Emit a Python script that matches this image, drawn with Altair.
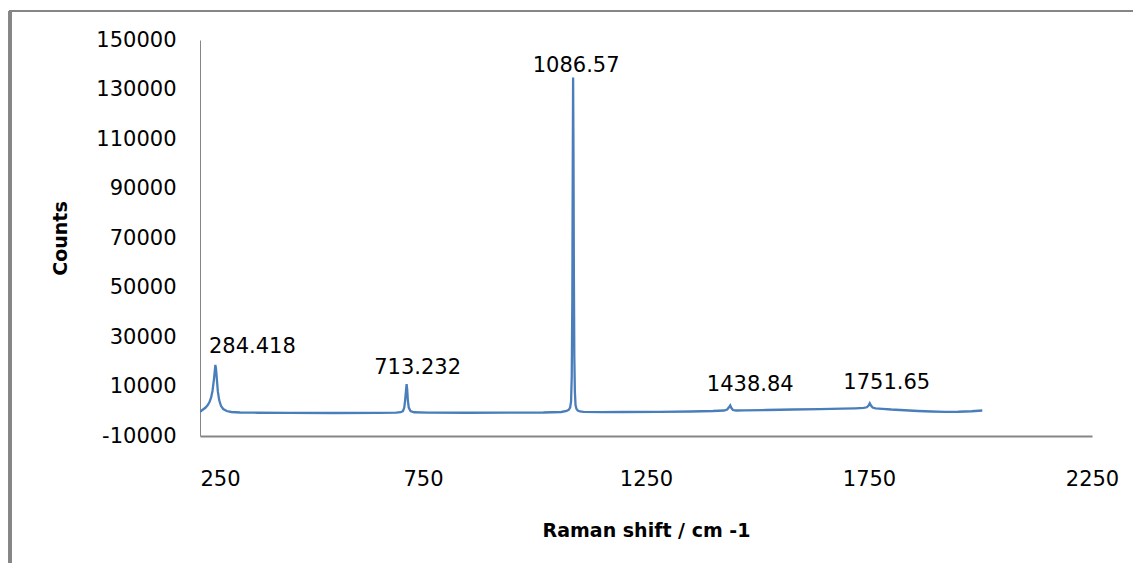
import altair as alt
import pandas as pd

# Raman spectrum
shift = [250, 256, 262, 267, 271, 275, 278, 281, 283, 284.418, 286, 288, 290, 293, 297, 302, 310, 320,
         340, 380, 450, 550, 650, 690, 700, 705, 708, 710, 712, 713.232, 714.5, 716, 718, 722, 730, 760,
         850, 950, 1020, 1060, 1072, 1077, 1080, 1082, 1083.5, 1084.8, 1085.8, 1086.57, 1087.4, 1088.3,
         1089.3, 1090.5, 1092, 1094, 1097, 1102, 1110, 1150, 1200, 1280, 1350, 1400, 1425, 1432, 1435.5,
         1438.84, 1441.5, 1445, 1452, 1470, 1520, 1580, 1640, 1690, 1720, 1738, 1745, 1749, 1751.65, 1754,
         1758, 1765, 1780, 1800, 1830, 1860, 1890, 1920, 1950, 1980, 2004]
counts = [-200, 600, 1400, 2400, 3600, 5600, 8200, 12500, 16000, 18700, 17000, 12500, 8000, 4500, 2200,
          900, 100, -300, -500, -600, -650, -700, -650, -550, -400, 0, 1500, 4500, 8500, 11000, 9000, 4500,
          1500, 100, -400, -550, -600, -550, -500, -300, 100, 600, 1600, 4000, 14000, 45000, 100000, 134800,
          105000, 55000, 22000, 8000, 2500, 1000, 300, -100, -250, -350, -300, -250, -100, 100, 300, 700,
          1500, 2400, 1300, 500, 300, 350, 500, 700, 850, 1050, 1200, 1350, 1600, 2300, 3200, 2400, 1500,
          1200, 1000, 700, 400, 100, -100, -250, -200, 0, 300]

peak_shift = [284.418, 713.232, 1086.57, 1438.84, 1751.65]
peak_counts = [18700, 11000, 134800, 2400, 3200]
peak_text = ["284.418", "713.232", "1086.57", "1438.84", "1751.65"]

x_ticks = [250, 750, 1250, 1750, 2250]
y_ticks = [-10000, 10000, 30000, 50000, 70000, 90000, 110000, 130000, 150000]

df = pd.DataFrame({"shift": shift, "counts": counts})
peaks = pd.DataFrame({"shift": peak_shift, "counts": peak_counts, "label": peak_text})

FONT = "DejaVu Sans"
GREY = "#868686"
BLUE = "#4A7EBB"

xscale = alt.Scale(domain=[250, 2250], nice=False, zero=False)
yscale = alt.Scale(domain=[-10000, 150000], nice=False, zero=False)

xaxis = alt.Axis(
    values=x_ticks, grid=False, ticks=False, domainColor=GREY, domainWidth=2,
    labelFont=FONT, labelFontSize=21, labelColor="black", labelPadding=32,
    labelExpr="'' + datum.value",
    labelAlign=alt.condition("datum.value == 250", alt.value("left"), alt.value("center")),
    labelFlush=False,
    title="Raman shift / cm -1", titleFont=FONT, titleFontSize=19, titleFontWeight="bold",
    titleColor="black", titleX=446, titleY=94, titleAlign="center", titleBaseline="middle",
)
yaxis = alt.Axis(
    values=y_ticks, grid=False, ticks=False, domainColor=GREY, domainWidth=1,
    labelFont=FONT, labelFontSize=21, labelColor="black", labelPadding=24,
    labelExpr="'' + datum.value",
    title="Counts", titleFont=FONT, titleFontSize=19, titleFontWeight="bold",
    titleColor="black", titleX=-140, titleY=198, titleAngle=270, titleAlign="center",
    titleBaseline="middle",
)

line = alt.Chart(df).mark_line(color=BLUE, strokeWidth=2.3, clip=True).encode(
    x=alt.X("shift:Q", scale=xscale, axis=xaxis),
    y=alt.Y("counts:Q", scale=yscale, axis=yaxis),
)

# per-label offsets (style), in pixels
label_dx = [37, 11, 3, 20, 17]
label_dy = [-8, -6, -2, -10, -10]

layers = [line]
for i in range(len(peak_text)):
    layers.append(
        alt.Chart(peaks.iloc[[i]]).mark_text(
            font=FONT, fontSize=21, color="black", align="center", baseline="bottom",
            dx=label_dx[i], dy=label_dy[i],
        ).encode(x=alt.X("shift:Q", scale=xscale), y=alt.Y("counts:Q", scale=yscale), text="label:N")
    )

# outer chart frame: only the left and top edges are visible in the picture
frame_left = alt.Chart(df).mark_rule(color=GREY, strokeWidth=2.5).encode(
    x=alt.value(-190), y=alt.value(-29), y2=alt.value(523)
)
frame_top = alt.Chart(df).mark_rule(color=GREY, strokeWidth=1.5).encode(
    x=alt.value(-191), x2=alt.value(933), y=alt.value(-29)
)
layers += [frame_left, frame_top]

chart = alt.layer(*layers).properties(
    width=892, height=396,
    autosize=alt.AutoSizeParams(type="none"),
    padding={"left": 192, "top": 32, "right": 41, "bottom": 127},
    background="white",
).configure_view(stroke=None)

chart.save("out.html", embed_options={"renderer": "svg", "actions": False})
